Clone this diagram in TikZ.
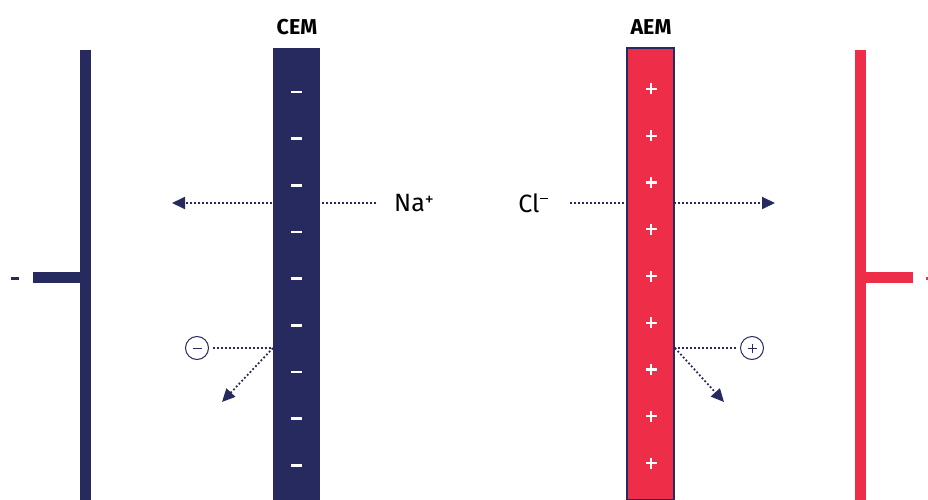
\documentclass[tikz,border=0pt]{standalone}
\usepackage{fontspec}
\setmainfont{Fira Sans}
\usetikzlibrary{arrows.meta}
\definecolor{navy}{HTML}{272A5E}
\definecolor{memred}{HTML}{EE2D48}
\pgfdeclarelayer{bg}
\pgfsetlayers{bg,main}
\tikzset{
  membrane/.style={rectangle, minimum width=47pt, minimum height=452pt, inner sep=0pt, outer sep=0pt},
  cemstyle/.style={membrane, fill=navy},
  aemstyle/.style={membrane, fill=memred, draw=navy, line width=1.6pt},
  memlabel/.style={font=\fontsize{21.5}{22}\selectfont\bfseries, text=black},
  ionlabel/.style={font=\fontsize{25}{26}\selectfont, text=black},
  dotarrow/.style={navy, line width=1.8pt, dash pattern=on 1.8pt off 2.2pt, -{Triangle[length=13pt,width=12pt]}},
  dotline/.style={navy, line width=1.8pt, dash pattern=on 1.8pt off 2.2pt},
  chargecirc/.style={circle, draw=navy, line width=1pt, minimum size=23pt, inner sep=0pt},
  signline/.style={navy, line width=0.8pt},
  electrode/.style={rectangle, inner sep=0pt, outer sep=0pt},
}
\begin{document}
\begin{tikzpicture}[x=1pt,y=-1pt]
\useasboundingbox (0,0) rectangle (928,500);
% electrodes
\node[electrode, fill=navy, minimum width=11pt, minimum height=450pt] (lel) at (85.5,275) {};
\node[electrode, fill=navy, minimum width=47pt, minimum height=11pt] (lstub) at (56.5,277.5) {};
\node[electrode, fill=navy, minimum width=8pt, minimum height=3pt] (lsign) at (15,278.5) {};
\node[electrode, fill=memred, minimum width=11pt, minimum height=450pt] (rel) at (860.5,275) {};
\node[electrode, fill=memred, minimum width=47pt, minimum height=11pt] (rstub) at (889.5,277.5) {};
\node[electrode, fill=memred, minimum width=3pt, minimum height=3pt] (rsign) at (927.5,278.5) {};
% membranes
\node[cemstyle] (cem) at (296.5,274) {};
\node[aemstyle] (aem) at (650.5,274) {};
\node[memlabel] (cemlab) at (297,27) {CEM};
\node[memlabel] (aemlab) at (651,27) {AEM};
% charges
\foreach \i in {0,...,8} {
  \fill[white] (291,{92+46.65*\i-1.4}) rectangle (302,{92+46.65*\i+1.4});
  \fill[white] (645.5,{89+46.75*\i-1.2}) rectangle (656.5,{89+46.75*\i+1.2});
  \fill[white] (649.8,{89+46.75*\i-5.5}) rectangle (652.2,{89+46.75*\i+5.5});
}
% ions
\node[ionlabel, anchor=center] (na) at (414,203) {Na\raisebox{0.45ex}{\fontsize{18}{18}\selectfont+}};
\node[ionlabel, anchor=center] (cl) at (533,203) {Cl\raisebox{1.0ex}{\rule{0.32em}{1.4pt}}};
\coordinate (nastart) at (376,203);
\coordinate (naend) at (172,203);
\coordinate (clstart) at (570,203);
\coordinate (clend) at (775,203);
\node[chargecirc] (mc) at (197,348) {};
\node[chargecirc] (pc) at (752,348) {};
\draw[signline] ([xshift=-4.5pt]mc.center) -- ([xshift=4.5pt]mc.center);
\draw[signline] ([xshift=-4.5pt]pc.center) -- ([xshift=4.5pt]pc.center);
\draw[signline] ([yshift=-4.5pt]pc.center) -- ([yshift=4.5pt]pc.center);
\coordinate (cemhit) at (273,348);
\coordinate (aemhit) at (675,348);
\coordinate (mtip) at (222,402);
\coordinate (ptip) at (724,402);
\begin{pgfonlayer}{bg}
\draw[dotarrow] (nastart) -- (naend);
\draw[dotarrow] (clstart) -- (clend);
\end{pgfonlayer}
\draw[dotline] (mc.east) ++(4,0) -- (cemhit);
\draw[dotarrow] (cemhit) -- (mtip);
\draw[dotline] (pc.west) ++(-4,0) -- (aemhit);
\draw[dotarrow] (aemhit) -- (ptip);
\end{tikzpicture}
\end{document}
